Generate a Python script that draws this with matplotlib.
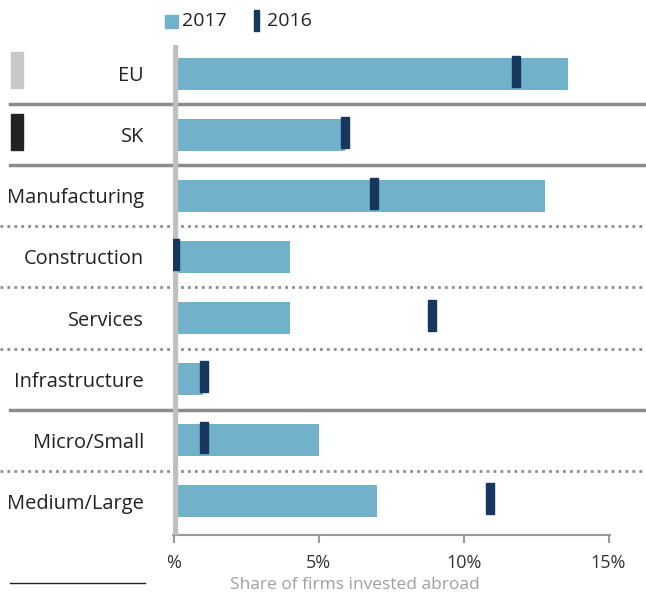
import numpy as np
import matplotlib.pyplot as plt
from matplotlib.patches import Rectangle
from matplotlib.lines import Line2D

plt.rcParams['font.family'] = ['Open Sans', 'DejaVu Sans']

categories = ['EU', 'SK', 'Manufacturing', 'Construction', 'Services',
              'Infrastructure', 'Micro/Small', 'Medium/Large']
share_2017 = [13.6, 5.9, 12.8, 4.0, 4.0, 1.0, 5.0, 7.0]
share_2016 = [11.8, 5.9, 6.9, 0.05, 8.9, 1.05, 1.05, 10.9]
tick_vals = [0, 5, 10, 15]
tick_labels = ['%', '5%', '10%', '15%']

blue = '#71b1c9'
navy = '#17375e'
W, H = 646, 595

fig = plt.figure(figsize=(W / 100, H / 100), dpi=100)
ax = fig.add_axes([173 / W, 1 - 535 / H, 437 / W, 490 / H])

y = np.arange(len(categories))
ax.barh(y, share_2017, height=0.51, color=blue, zorder=2)
# 2016 markers: thin dark rectangles
mw = 0.27
for yi, v in zip(y, share_2016):
    ax.add_patch(Rectangle((v - mw / 2, yi - 0.29), mw, 0.5, color=navy, zorder=4))

ax.axvline(0, color='#c0c0c0', lw=6, zorder=3, solid_capstyle='butt')

ax.set_ylim(7.557, -0.475)
ax.set_xlim(-0.03, 15.05)
ax.set_yticks(y)
ax.set_yticklabels(categories, fontsize=14.4, color='#222222')
ax.tick_params(axis='y', length=0, pad=21)
ax.set_xticks(tick_vals)
ax.set_xticklabels(tick_labels, fontsize=13, color='#333333')
ax.tick_params(axis='x', length=6, color='#999999', width=1.5, pad=8)
for s in ['top', 'right', 'left']:
    ax.spines[s].set_visible(False)
ax.spines['bottom'].set_color('#999999')
ax.spines['bottom'].set_linewidth(1.5)

# separators between groups
trans = ax.get_yaxis_transform()
x0, x1 = (10 - 173) / 437, (646 - 173) / 437
for yy in [0.5, 1.5, 5.5]:
    ax.plot([x0, x1], [yy, yy], transform=trans, color='#8c8c8c', lw=2.5,
            clip_on=False, zorder=1)
for yy in [2.5, 3.5, 4.5, 6.5]:
    ax.plot([(0 - 173) / 437, x1], [yy, yy], transform=trans, color='#8c8c8c',
            lw=2, ls=(0, (1, 1.5)), clip_on=False, zorder=1)

# left side colour keys for EU and SK
fig.patches.append(Rectangle((11 / W, 1 - 88 / H), 12 / W, 36 / H,
                             color='#c8c8c8', transform=fig.transFigure))
fig.patches.append(Rectangle((11 / W, 1 - 150 / H), 12 / W, 36 / H,
                             color='#222222', transform=fig.transFigure))

# legend
fig.patches.append(Rectangle((165 / W, 1 - 28 / H), 13 / W, 13 / H,
                             color=blue, transform=fig.transFigure))
fig.text(182 / W, 1 - 21 / H, '2017', fontsize=14, color='#222222', va='center')
fig.patches.append(Rectangle((254 / W, 1 - 31 / H), 5 / W, 21 / H,
                             color=navy, transform=fig.transFigure))
fig.text(267 / W, 1 - 21 / H, '2016', fontsize=14, color='#222222', va='center')

# footer
fig.add_artist(Line2D([10 / W, 145 / W], [1 - 583 / H, 1 - 583 / H],
                      color='#222222', lw=1))
fig.text(355 / W, 1 - 585 / H, 'Share of firms invested abroad', fontsize=12.5,
         color='#a0a0a0', ha='center', va='center')

fig.savefig('out.png', dpi=100)
